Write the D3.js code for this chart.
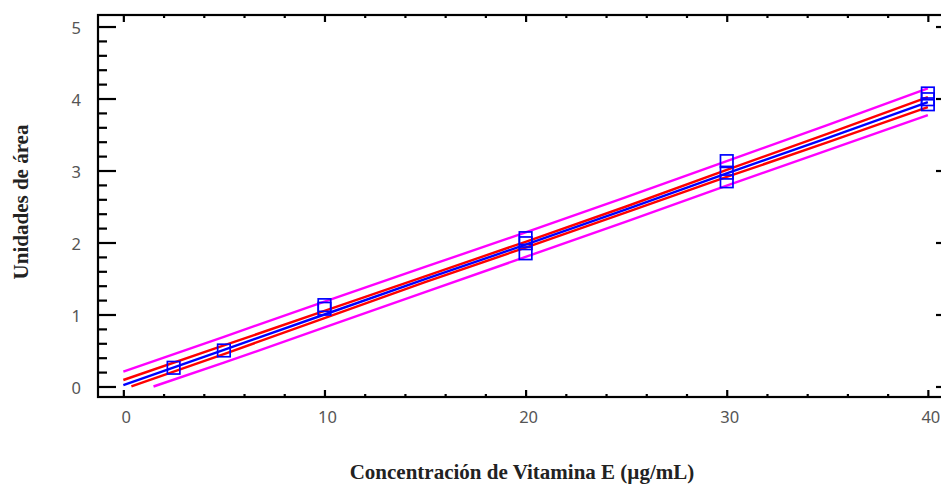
<!DOCTYPE html>
<html>
<head>
<meta charset="utf-8">
<script src="https://cdn.jsdelivr.net/npm/d3@7"></script>
<style>
  html, body { margin: 0; padding: 0; background: #fff; }
  svg { display: block; }
</style>
</head>
<body>
<script>
// ---- data ----
const xTickLabels = [0, 10, 20, 30, 40];
const yTickLabels = [0, 1, 2, 3, 4, 5];

// observed points (concentration, area units)
const obsX = [2.5, 5, 10, 10, 20, 20, 20, 30, 30, 30, 40, 40, 40];
const obsY = [0.26, 0.50, 1.13, 1.08, 2.06, 1.99, 1.85, 3.13, 2.97, 2.85, 4.07, 3.99, 3.92];

// fitted line and limits, read at selected concentrations
const lineX = [0, 5, 10, 15, 20, 25, 30, 35, 40];
const fitY = [0.02, 0.51, 1.00, 1.49, 1.97, 2.46, 2.96, 3.45, 3.95];
const confUpY = [0.09, 0.57, 1.05, 1.53, 2.01, 2.50, 3.01, 3.51, 4.02];
const confLowX = [0.4, 5, 10, 15, 20, 25, 30, 35, 40];
const confLowY = [0.00, 0.45, 0.95, 1.45, 1.93, 2.42, 2.91, 3.39, 3.88];
const predUpY = [0.205, 0.69, 1.18, 1.66, 2.14, 2.63, 3.13, 3.63, 4.14];
const predLowX = [1.5, 5, 10, 15, 20, 25, 30, 35, 40];
const predLowY = [0.00, 0.33, 0.82, 1.31, 1.80, 2.29, 2.79, 3.28, 3.77];

(function () {
const W = 941, H = 484;
const svg = d3.select("body").append("svg").attr("width", W).attr("height", H);

const x = d3.scaleLinear().domain([-1.26, 41.3]).range([98, 954]);
const y = d3.scaleLinear().domain([-0.146, 5.16]).range([397, 15]);

const pLeft = x.range()[0], pRight = x.range()[1];
const pTop = y.range()[1], pBottom = y.range()[0];

// series lines
const line = d3.line().x(d => x(d[0])).y(d => y(d[1]));
function drawLine(xs, ys, color) {
  svg.append("path")
    .datum(xs.map((v, i) => [v, ys[i]]))
    .attr("d", line)
    .attr("fill", "none")
    .attr("stroke", color)
    .attr("stroke-width", 2.4);
}
drawLine(lineX, predUpY, "#ff00ff");
drawLine(predLowX, predLowY, "#ff00ff");
drawLine(lineX, confUpY, "#ff0000");
drawLine(confLowX, confLowY, "#ff0000");
drawLine(lineX, fitY, "#0000ff");

// observed squares
const sq = 12.5;
svg.append("g").selectAll("rect")
  .data(obsX.map((v, i) => [v, obsY[i]]))
  .join("rect")
  .attr("x", d => x(d[0]) - sq / 2)
  .attr("y", d => y(d[1]) - sq / 2)
  .attr("width", sq).attr("height", sq)
  .attr("fill", "none")
  .attr("stroke", "#0000ff")
  .attr("stroke-width", 1.7);

// frame
svg.append("rect")
  .attr("x", pLeft).attr("y", pTop)
  .attr("width", pRight - pLeft).attr("height", pBottom - pTop)
  .attr("fill", "none").attr("stroke", "#000").attr("stroke-width", 2.2);

const fmt = d3.format("d");
const xMinor = d3.range(0, 41, 2).filter(v => v % 10 !== 0);
const yMinor = d3.range(0, 26).map(i => i / 5).filter(v => Math.abs(v - Math.round(v)) > 1e-6);

function tickStyle(g) {
  g.select(".domain").remove();
  g.selectAll("line").attr("stroke", "#000").attr("stroke-width", 2.2);
  g.selectAll("text").remove();
}

// bottom
svg.append("g").attr("transform", `translate(0,${pBottom})`)
  .call(d3.axisBottom(x).tickValues(xTickLabels).tickSizeInner(-7).tickSizeOuter(0)).call(tickStyle);
svg.append("g").attr("transform", `translate(0,${pBottom})`)
  .call(d3.axisBottom(x).tickValues(xMinor).tickSizeInner(-3).tickSizeOuter(0)).call(tickStyle);
// top
svg.append("g").attr("transform", `translate(0,${pTop})`)
  .call(d3.axisTop(x).tickValues(xTickLabels).tickSizeInner(-7).tickSizeOuter(0)).call(tickStyle);
svg.append("g").attr("transform", `translate(0,${pTop})`)
  .call(d3.axisTop(x).tickValues(xMinor).tickSizeInner(-3).tickSizeOuter(0)).call(tickStyle);
// left
svg.append("g").attr("transform", `translate(${pLeft},0)`)
  .call(d3.axisLeft(y).tickValues(yTickLabels).tickSizeInner(-18).tickSizeOuter(0)).call(tickStyle);
svg.append("g").attr("transform", `translate(${pLeft},0)`)
  .call(d3.axisLeft(y).tickValues(yMinor).tickSizeInner(-9).tickSizeOuter(0)).call(tickStyle);
// right
svg.append("g").attr("transform", `translate(${pRight},0)`)
  .call(d3.axisRight(y).tickValues(yTickLabels).tickSizeInner(-18).tickSizeOuter(0)).call(tickStyle);
svg.append("g").attr("transform", `translate(${pRight},0)`)
  .call(d3.axisRight(y).tickValues(yMinor).tickSizeInner(-9).tickSizeOuter(0)).call(tickStyle);

// tick labels
const labelFont = "'Noto Sans', 'DejaVu Sans', sans-serif";
svg.append("g").selectAll("text")
  .data(xTickLabels).join("text")
  .attr("x", d => x(d) + 3)
  .attr("y", 417)
  .attr("dy", "0.35em")
  .attr("text-anchor", "middle")
  .attr("font-family", labelFont).attr("font-size", 16.5).attr("fill", "#555")
  .text(fmt);
svg.append("g").selectAll("text")
  .data(yTickLabels).join("text")
  .attr("x", 81)
  .attr("y", d => y(d) + 1.5)
  .attr("dy", "0.35em")
  .attr("text-anchor", "end")
  .attr("font-family", labelFont).attr("font-size", 16.5).attr("fill", "#555")
  .text(fmt);

// axis titles
svg.append("text")
  .attr("x", 522).attr("y", 479)
  .attr("text-anchor", "middle")
  .attr("font-family", "'Liberation Serif', 'Times New Roman', serif")
  .attr("font-weight", "bold").attr("font-size", 21).attr("fill", "#222")
  .text("Concentración de Vitamina E (µg/mL)");
svg.append("text")
  .attr("transform", "translate(28,202) rotate(-90)")
  .attr("text-anchor", "middle")
  .attr("font-family", "'Liberation Serif', 'Times New Roman', serif")
  .attr("font-weight", "bold").attr("font-size", 21).attr("fill", "#222")
  .text("Unidades de área");
})();
</script>
</body>
</html>
